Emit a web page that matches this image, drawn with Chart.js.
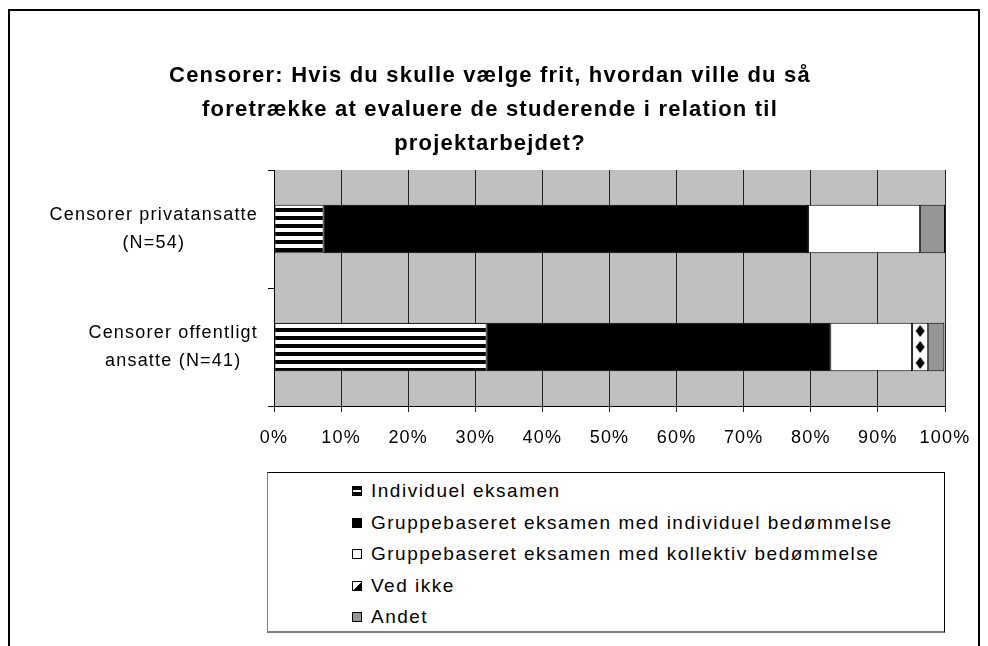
<!DOCTYPE html>
<html lang="da">
<head>
<meta charset="UTF-8">
<title>Censorer</title>
<script src="https://cdn.jsdelivr.net/npm/chart.js"></script>
<style>
  body { margin: 0; background: #fff; overflow: hidden; }
  #wrap { position: relative; width: 988px; height: 646px; overflow: hidden; }
  #chart { position: absolute; left: 0; top: 0; }
  #frame { position: absolute; left: 8px; top: 9px; width: 968px; height: 700px; border: 2px solid #000; pointer-events: none; }
  #legend { position: absolute; left: 267px; top: 472px; width: 676px; height: 158px; background: #fff;
            border: 1px solid #000; border-left-color: #808080; border-bottom: 2px solid #808080;
            font: 19px "Liberation Sans", Arial, sans-serif; letter-spacing: 1.5px; color: #000; }
  #legend ul { list-style: none; margin: 0; padding: 2px 0 0 84px; line-height: 31.6px; }
  .sw { display: inline-block; width: 8px; height: 8px; border: 1px solid #000; margin-right: 9px; vertical-align: 1px; }
</style>
</head>
<body>
<div id="wrap">
  <canvas id="chart" width="988" height="646"></canvas>
  <div id="legend"><ul id="legendList"></ul></div>
  <div id="frame"></div>
</div>
<script>
// data (percent of respondents)
const titleLines = [
  "Censorer: Hvis du skulle vælge frit, hvordan ville du så",
  "foretrække at evaluere de studerende i relation til",
  "projektarbejdet?"
];
const categories = [["Censorer privatansatte", "(N=54)"], ["Censorer offentligt", "ansatte (N=41)"]];
const seriesNames = [
  "Individuel eksamen",
  "Gruppebaseret eksamen med individuel bedømmelse",
  "Gruppebaseret eksamen med kollektiv bedømmelse",
  "Ved ikke",
  "Andet"
];
const individuel = [7.4, 31.7];
const gruppeIndividuel = [72.2, 51.2];
const gruppeKollektiv = [16.7, 12.2];
const vedIkke = [0, 2.4];
const andet = [3.7, 2.4];
const tickLabels = ["0%", "10%", "20%", "30%", "40%", "50%", "60%", "70%", "80%", "90%", "100%"];

const FONT = '"Liberation Sans", Arial, sans-serif';
const canvas = document.getElementById('chart');
const ctx = canvas.getContext('2d');

// fill patterns
function makeStripes() {
  const c = document.createElement('canvas');
  c.width = 8; c.height = 8;
  const g = c.getContext('2d');
  g.fillStyle = '#fff'; g.fillRect(0, 0, 8, 8);
  g.fillStyle = '#000'; g.fillRect(0, 0, 8, 4);
  return ctx.createPattern(c, 'repeat');
}
function makeDiamonds() {
  const c = document.createElement('canvas');
  c.width = 16; c.height = 16;
  const g = c.getContext('2d');
  g.fillStyle = '#fff'; g.fillRect(0, 0, 16, 16);
  g.fillStyle = '#000';
  g.beginPath();
  g.moveTo(8, 2); g.lineTo(12.5, 8); g.lineTo(8, 14); g.lineTo(3.5, 8);
  g.closePath(); g.fill();
  return ctx.createPattern(c, 'repeat');
}
const stripePat = makeStripes();
const diamondPat = makeDiamonds();

const fills = [stripePat, '#000000', '#ffffff', diamondPat, '#969696'];
const seriesData = [individuel, gruppeIndividuel, gruppeKollektiv, vedIkke, andet];

// gray plot background + letter spacing for canvas text
const plotBg = {
  id: 'plotBg',
  beforeDraw(chart) {
    const a = chart.chartArea;
    chart.ctx.letterSpacing = '1.2px';
    chart.ctx.save();
    chart.ctx.fillStyle = '#c0c0c0';
    chart.ctx.fillRect(a.left, a.top, a.right - a.left, a.bottom - a.top);
    chart.ctx.restore();
  }
};

// keep the diamonds centred in the "Ved ikke" segment
const alignPatterns = {
  id: 'alignPatterns',
  beforeDatasetsDraw(chart) {
    const meta = chart.getDatasetMeta(3);
    const bar = meta.data.find(b => Math.abs(b.x - b.base) > 1);
    if (bar) diamondPat.setTransform(new DOMMatrix().translate((bar.x + bar.base) / 2 - 8, bar.y - 8));
  }
};

// category labels: block right aligned, lines centred (Excel style)
const catLabels = {
  id: 'catLabels',
  afterDraw(chart) {
    const c = chart.ctx, y = chart.scales.y;
    c.save();
    c.font = '18px ' + FONT;
    c.fillStyle = '#000';
    c.textAlign = 'center';
    c.textBaseline = 'middle';
    categories.forEach((lines, i) => {
      const cy = y.getPixelForValue(i);
      const w = Math.max(...lines.map(l => c.measureText(l).width));
      const cx = y.right - 16 - w / 2;
      lines.forEach((l, k) => c.fillText(l, cx, cy + (k - (lines.length - 1) / 2) * 28));
    });
    c.restore();
  }
};

new Chart(canvas, {
  type: 'bar',
  data: {
    labels: categories,
    datasets: seriesNames.map((name, i) => ({
      label: name,
      data: seriesData[i],
      backgroundColor: fills[i],
      borderColor: '#000',
      borderWidth: 1,
      borderSkipped: false,
      categoryPercentage: 1,
      barPercentage: 0.41,
      xAxisID: 'x',
      yAxisID: 'y'
    }))
  },
  options: {
    indexAxis: 'y',
    responsive: false,
    animation: false,
    devicePixelRatio: 1,
    layout: { padding: { left: 0, right: 8, top: 0, bottom: 190 } },
    plugins: {
      legend: { display: false },
      tooltip: { enabled: false },
      title: {
        display: true,
        text: titleLines,
        color: '#000',
        font: { family: FONT, size: 22, weight: 'bold', lineHeight: 34 / 22 },
        padding: { top: 59, bottom: 9 }
      }
    },
    scales: {
      x: {
        stacked: true,
        min: 0,
        max: 100,
        ticks: {
          stepSize: 10,
          autoSkip: false,
          maxRotation: 0,
          color: '#000',
          padding: 15,
          font: { family: FONT, size: 18 },
          callback: (v, i) => tickLabels[i]
        },
        grid: { color: '#222', lineWidth: 1, tickLength: 6 },
        border: { color: '#000', width: 1 },
        afterFit(s) { s.height = 50; }
      },
      y: {
        stacked: true,
        ticks: { display: false },
        grid: { drawOnChartArea: false, tickLength: 6, color: '#000' },
        border: { color: '#000', width: 1 },
        afterFit(s) { s.width = 274; }
      },
      pad: {
        axis: 'y',
        type: 'linear',
        position: 'right',
        ticks: { display: false },
        grid: { display: false },
        border: { display: false },
        afterFit(s) { s.width = 35; }
      }
    }
  },
  plugins: [plotBg, alignPatterns, catLabels]
});

// legend box
const swatchCss = [
  'background: linear-gradient(#000 0 35%, #fff 35% 65%, #000 65%);',
  'background: #000;',
  'background: #fff;',
  'background: linear-gradient(to top left, #000 50%, #fff 50%);',
  'background: #969696;'
];
document.getElementById('legendList').innerHTML = seriesNames
  .map((n, i) => '<li><span class="sw" style="' + swatchCss[i] + '"></span>' + n + '</li>')
  .join('');
</script>
</body>
</html>
